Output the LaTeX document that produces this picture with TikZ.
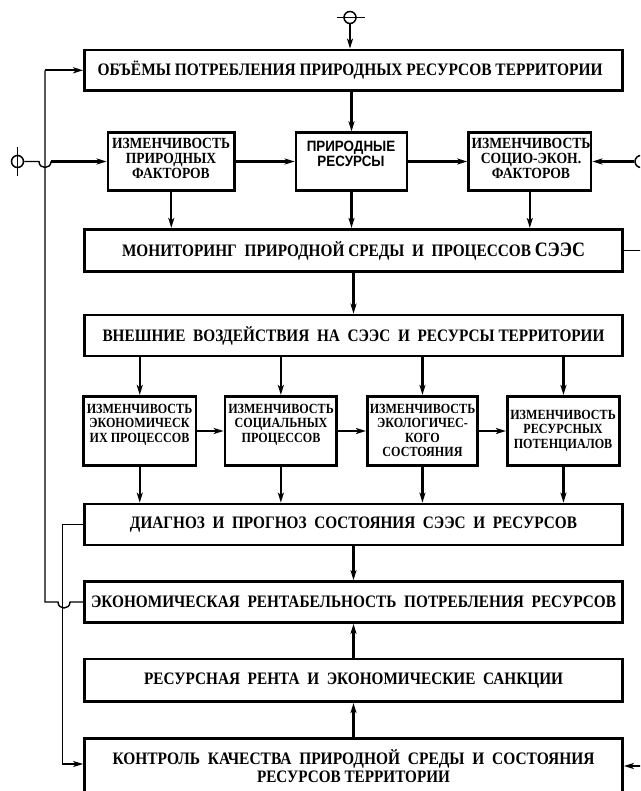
\documentclass[tikz,border=0pt]{standalone}
\usepackage{fontspec}
\setmainfont{Liberation Serif}
\newfontfamily\sansbf{Liberation Sans}
\usetikzlibrary{arrows.meta}
\newlength\mytw
\newcommand\fitw[2]{\settowidth\mytw{#2}\pgfmathsetmacro\myfr{#1/\mytw}\scalebox{\myfr}[1]{#2}}
\newcommand\ml[1]{\begin{tabular}{@{}c@{}}#1\end{tabular}}
\begin{document}
\begin{tikzpicture}[x=1pt,y=-1pt,
  box/.style={draw, line width=2.7pt, inner sep=0pt},
  big/.style={box, minimum width=538pt, font=\bfseries\fontsize{17.5}{18}\selectfont},
  lbl/.style={inner sep=0pt, font=\bfseries\fontsize{17.5}{18}\selectfont},
  sl/.style={inner sep=0pt, font=\bfseries\fontsize{15.5}{15}\selectfont},
  tl/.style={inner sep=0pt, font=\bfseries\fontsize{14}{14.3}\selectfont},
  arr/.style={line width=2.3pt, -{Stealth[length=10pt,width=6pt,inset=2.5pt]}},
  fb/.style={line width=1.4pt},
  fba/.style={fb, -{Stealth[length=10pt,width=6pt,inset=2.5pt]}},
  sym/.style={circle, draw, line width=1.5pt, minimum size=12pt, inner sep=0pt}]
\useasboundingbox (0,0) rectangle (640,791);
\fill[white] (0,0) rectangle (640,791);
\clip (0,0) rectangle (640,791);

% big boxes
\node[big, minimum height=40.7pt] (b1) at (353.5,70.3) {};
\node[lbl] (t1) at (350,70.3) {\fitw{505pt}{ОБЪЁМЫ ПОТРЕБЛЕНИЯ ПРИРОДНЫХ РЕСУРСОВ ТЕРРИТОРИИ}};
\node[big, minimum height=42.4pt] (mon) at (353.5,250.5)
  {\fitw{463pt}{МОНИТОРИНГ\ \ ПРИРОДНОЙ СРЕДЫ\ \ И\ \ ПРОЦЕССОВ {\fontsize{20.5}{20.5}\selectfont СЭЭС}}};
\node[big, minimum height=41pt] (vne) at (353.5,335.5)
  {\fitw{502pt}{ВНЕШНИЕ\ \ ВОЗДЕЙСТВИЯ\ \ НА\ \ СЭЭС\ \ И\ \ РЕСУРСЫ ТЕРРИТОРИИ}};
\node[big, minimum height=41pt] (dia) at (353.5,524.5)
  {\fitw{447pt}{ДИАГНОЗ\ \ И\ \ ПРОГНОЗ\ \ СОСТОЯНИЯ\ \ СЭЭС\ \ И\ \ РЕСУРСОВ}};
\node[big, minimum height=41pt] (eko) at (353.5,602)
  {\fitw{525pt}{ЭКОНОМИЧЕСКАЯ\ \ РЕНТАБЕЛЬНОСТЬ\ \ ПОТРЕБЛЕНИЯ\ \ РЕСУРСОВ}};
\node[big, minimum height=42.7pt] (res) at (353.5,680.3)
  {\fitw{419pt}{РЕСУРСНАЯ\ \ РЕНТА\ \ И\ \ ЭКОНОМИЧЕСКИЕ\ \ САНКЦИИ}};
\node[big, minimum height=61.5pt] (kon) at (353.5,769) {};
\node[lbl] (tk) at (353.5,769) {\ml{\fitw{482pt}{КОНТРОЛЬ\ \ КАЧЕСТВА\ \ ПРИРОДНОЙ\ \ СРЕДЫ\ \ И\ \ СОСТОЯНИЯ}\\\fitw{193pt}{РЕСУРСОВ ТЕРРИТОРИИ}}};

% row 2
\node[box, minimum width=126.7pt, minimum height=57.5pt] (p1) at (171.3,161.5) {};
\node[sl] (tp1) at (171,160.5) {\fitw{118pt}{\ml{ИЗМЕНЧИВОСТЬ\\ПРИРОДНЫХ\\ФАКТОРОВ}}};
\node[box, minimum width=111pt, minimum height=57.5pt] (p2) at (351.5,161.5) {};
\node[inner sep=0pt, font=\sansbf\bfseries\fontsize{15}{15}\selectfont] (tp2) at (351,155.8) {\fitw{88.5pt}{\ml{ПРИРОДНЫЕ\\РЕСУРСЫ}}};
\node[box, minimum width=122.4pt, minimum height=57.5pt] (p3) at (529.8,161.5) {};
\node[sl] (tp3) at (531,160.5) {\fitw{119pt}{\ml{ИЗМЕНЧИВОСТЬ\\СОЦИО-ЭКОН.\\ФАКТОРОВ}}};

% row 4
\node[box, minimum width=112.5pt, minimum height=69.4pt] (a) at (139.75,431) {};
\node[tl] (ta) at (139.5,425) {\fitw{105.5pt}{\ml{ИЗМЕНЧИВОСТЬ\\ЭКОНОМИЧЕСК\\ИХ ПРОЦЕССОВ}}};
\node[box, minimum width=111.7pt, minimum height=69.4pt] (b) at (280.85,431) {};
\node[tl] (tb) at (281,425) {\fitw{105.5pt}{\ml{ИЗМЕНЧИВОСТЬ\\СОЦИАЛЬНЫХ\\ПРОЦЕССОВ}}};
\node[box, minimum width=110.3pt, minimum height=69.4pt] (c) at (422.45,431) {};
\node[tl] (tc) at (422.5,432) {\fitw{105.5pt}{\ml{ИЗМЕНЧИВОСТЬ\\ЭКОЛОГИЧЕС-\\КОГО\\СОСТОЯНИЯ}}};
\node[box, minimum width=112.3pt, minimum height=69.4pt] (d) at (563.45,431) {};
\node[tl] (td) at (563,431) {\fitw{105.5pt}{\ml{ИЗМЕНЧИВОСТЬ\\РЕСУРСНЫХ\\ПОТЕНЦИАЛОВ}}};

% input symbols
\node[sym] (ctop) at (350,17.5) {};
\draw[fb] (336.5,17.5) -- (365,17.5);
\node[sym] (cin) at (17.5,161.5) {};
\draw[fb] (17.5,147) -- (17.5,176);
\node[sym] (cright) at (641,161.5) {};

% input connectors
\draw[arr] (ctop.south) -- (ctop.south |- b1.north);
\coordinate (j1a) at (39,161.5);
\coordinate (j1b) at (51,161.5);
\draw[fb] (cin.east) -- (j1a) .. controls (39,169.5) and (51,169.5) .. (j1b);
\draw[arr] (j1b) -- (p1.west);
\draw[arr] (cright.west) -- (p3.east);

% main flow
\draw[arr] (b1.south -| p2.north) -- (p2.north);
\draw[arr] (p1.east) -- (p2.west);
\draw[arr] (p2.east) -- (p3.west);
\draw[arr] (p1.south) -- (p1.south |- mon.north);
\draw[arr] (p2.south) -- (p2.south |- mon.north);
\draw[arr] (p3.south) -- (p3.south |- mon.north);
\draw[arr] (mon.south) -- (vne.north);
\foreach \n in {a,b,c,d}{
  \draw[arr] (vne.south -| \n.north) -- (\n.north);
  \draw[arr] (\n.south) -- (\n.south |- dia.north);
}
\draw[arr] (a.east) -- (b.west);
\draw[arr] (b.east) -- (c.west);
\draw[arr] (c.east) -- (d.west);
\draw[arr] (dia.south) -- (eko.north);
\draw[arr] (res.north) -- (eko.south);
\draw[arr] (kon.north) -- (res.south);

% feedback lines
\coordinate (j2a) at (70,602);
\coordinate (j2b) at (58,602);
\draw[fb] (eko.west) -- (j2a) .. controls (70,610) and (58,610) .. (j2b) -- (45,602) -- (45,70.3);
\draw[arr] (45,70.3) -- (b1.west);
\draw[fba] (dia.west) -- ++(-20.5,0) |- ([yshift=5pt]kon.west);
\draw[fba] (mon.east) -- ++(30,0) |- ([yshift=3pt]kon.east);
\end{tikzpicture}
\end{document}
